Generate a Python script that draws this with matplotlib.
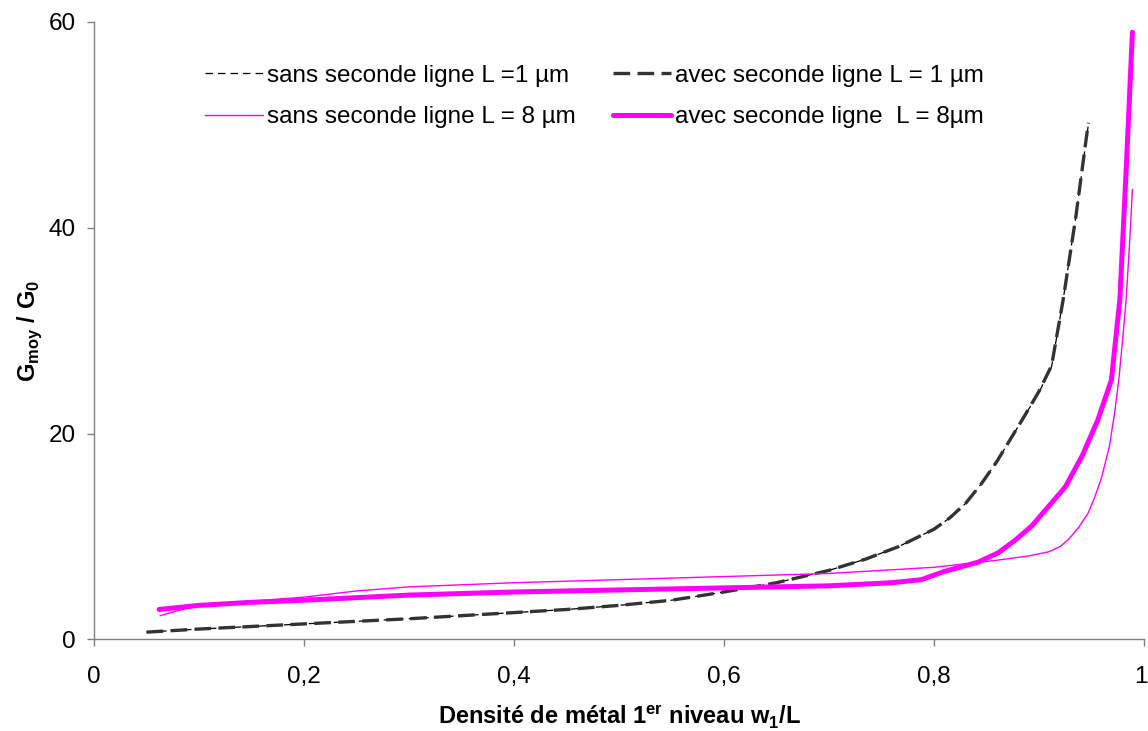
import matplotlib

matplotlib.use("Agg")

import matplotlib.pyplot as plt
from matplotlib.ticker import FixedLocator, FuncFormatter
from matplotlib.transforms import ScaledTranslation

plt.rcParams["font.family"] = ["Liberation Sans", "DejaVu Sans"]
plt.rcParams["mathtext.fontset"] = "custom"
plt.rcParams["mathtext.rm"] = "Liberation Sans"
plt.rcParams["mathtext.bf"] = "Liberation Sans:bold"

# sans seconde ligne, L = 1 um
x_sans_l1 = [0.05, 0.1, 0.15, 0.2, 0.25, 0.3, 0.35, 0.4, 0.45, 0.5, 0.55, 0.6,
             0.65, 0.7, 0.735, 0.766, 0.8, 0.815, 0.83, 0.845, 0.86, 0.885,
             0.9, 0.912, 0.923, 0.935, 0.947]
y_sans_l1 = [0.7, 1.0, 1.25, 1.5, 1.75, 2.0, 2.3, 2.6, 2.9, 3.3, 3.8, 4.6,
             5.5, 6.7, 7.8, 9.0, 10.7, 11.8, 13.2, 15.1, 17.3, 21.5,
             24.0, 26.5, 33.0, 41.0, 50.0]

# avec seconde ligne, L = 1 um
x_avec_l1 = [0.05, 0.1, 0.15, 0.2, 0.25, 0.3, 0.35, 0.4, 0.45, 0.5, 0.55, 0.6,
             0.65, 0.7, 0.735, 0.766, 0.8, 0.815, 0.83, 0.845, 0.86, 0.885,
             0.9, 0.912, 0.923, 0.935, 0.947]
y_avec_l1 = [0.7, 1.0, 1.25, 1.5, 1.75, 2.0, 2.3, 2.6, 2.9, 3.3, 3.8, 4.6,
             5.5, 6.7, 7.8, 9.0, 10.7, 11.8, 13.2, 15.1, 17.3, 21.5,
             24.1, 26.6, 33.0, 41.0, 50.2]

# sans seconde ligne, L = 8 um
x_sans_l8 = [0.063, 0.08, 0.1, 0.15, 0.2, 0.25, 0.3, 0.4, 0.5, 0.6, 0.7, 0.8,
             0.861, 0.89, 0.909, 0.92, 0.928, 0.938, 0.947, 0.953, 0.959,
             0.967, 0.972, 0.976, 0.98, 0.983, 0.986, 0.989]
y_sans_l8 = [2.3, 2.8, 3.3, 3.7, 4.1, 4.7, 5.1, 5.5, 5.8, 6.1, 6.4, 7.0,
             7.7, 8.1, 8.5, 9.0, 9.7, 10.9, 12.3, 13.8, 15.5,
             18.7, 22.0, 25.2, 29.5, 33.0, 38.0, 43.7]

# avec seconde ligne, L = 8 um
x_avec_l8 = [0.062, 0.1, 0.15, 0.2, 0.3, 0.4, 0.5, 0.6, 0.7, 0.76, 0.788,
             0.81, 0.842, 0.861, 0.877, 0.893, 0.925, 0.941, 0.956, 0.969,
             0.977, 0.983, 0.989]
y_avec_l8 = [2.9, 3.3, 3.6, 3.8, 4.3, 4.6, 4.8, 5.0, 5.2, 5.5, 5.8,
             6.6, 7.5, 8.4, 9.6, 11.0, 14.8, 17.8, 21.3, 25.2,
             33.0, 45.5, 59.0]

x_ticks = [0, 0.2, 0.4, 0.6, 0.8, 1.0]
y_ticks = [0, 20, 40, 60]

fig = plt.figure(figsize=(11.48, 7.31), dpi=100)
ax = fig.add_axes([0.0819, 0.1254, 0.9146, 0.8446])

h1, = ax.plot(x_sans_l1, y_sans_l1, color="black", lw=0.9, dashes=(6, 4),
              label="sans seconde ligne L =1 µm")
h2, = ax.plot(x_avec_l1, y_avec_l1, color="#333333", lw=2.4, dashes=(5, 2.2),
              label="avec seconde ligne L = 1 µm")
h3, = ax.plot(x_sans_l8, y_sans_l8, color="#FF00FF", lw=1.0,
              label="sans seconde ligne L = 8 µm")
h4, = ax.plot(x_avec_l8, y_avec_l8, color="#FF00FF", lw=3.6,
              solid_capstyle="round", solid_joinstyle="round",
              label="avec seconde ligne  L = 8µm")

ax.set_xlim(0, 1)
ax.set_ylim(0, 60)
ax.xaxis.set_major_locator(FixedLocator(x_ticks))
ax.yaxis.set_major_locator(FixedLocator(y_ticks))


def _fmt_fr(v, pos):
    if abs(v - round(v)) < 1e-9:
        return f"{int(round(v))}"
    return f"{v:.1f}".replace(".", ",")


ax.xaxis.set_major_formatter(FuncFormatter(_fmt_fr))

for side in ("top", "right"):
    ax.spines[side].set_visible(False)
for side in ("left", "bottom"):
    ax.spines[side].set_color("#808080")
    ax.spines[side].set_linewidth(1.0)
ax.tick_params(direction="out", length=5, width=1, color="#808080",
               labelsize=17.5)
ax.tick_params(axis="y", pad=8)
ax.tick_params(axis="x", pad=14)

ax.set_xlabel(r"Densité de métal 1$^{\mathbf{er}}$ niveau w$_{\mathbf{1}}$/L",
              fontsize=17, fontweight="bold", labelpad=12)
ax.set_ylabel(r"G$_{\mathbf{moy}}$ / G$_{\mathbf{0}}$",
              fontsize=17, fontweight="bold", labelpad=3.5)

# column-first fill -> rows: L=1 / L=8
ax.legend([h1, h3, h2, h4], [h.get_label() for h in (h1, h3, h2, h4)],
          loc="upper left", bbox_to_anchor=(0.085, 0.966), ncol=2,
          frameon=False, fontsize=17.5, handlelength=2.4, handletextpad=0.16,
          columnspacing=1.5, labelspacing=0.8)

# keep the last x tick label ("1") inside the canvas
fig.canvas.draw()
last = ax.xaxis.get_major_ticks()[-1].label1
last.set_transform(last.get_transform()
                   + ScaledTranslation(-3 / 100, 0, fig.dpi_scale_trans))

fig.savefig("out.png", dpi=100)
plt.close(fig)
